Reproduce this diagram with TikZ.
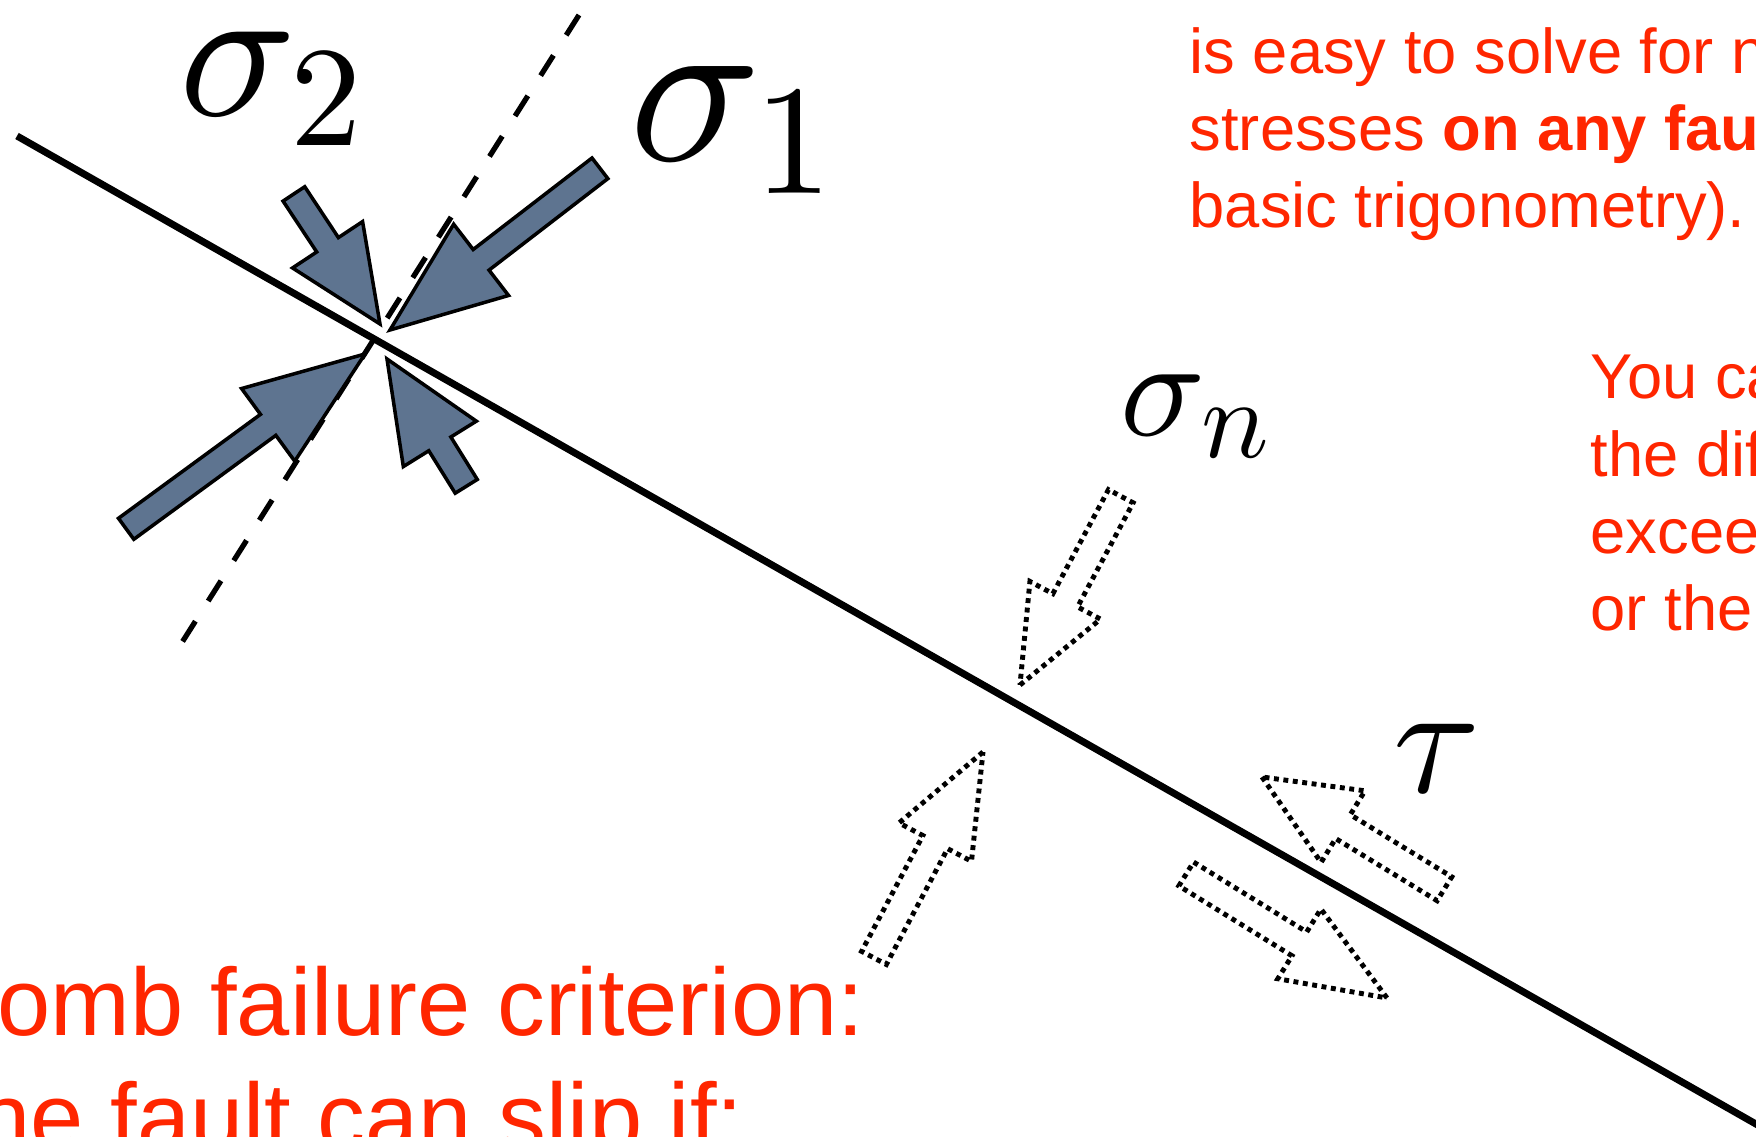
\RequirePackage{fix-cm}
\documentclass[tikz,border=0pt]{standalone}
\usepackage{fontspec}
\newfontfamily\arialfont{Liberation Sans}
\DeclareFontShape{OML}{cmm}{m}{it}{<->cmmi10}{}
\DeclareFontShape{OT1}{cmr}{m}{n}{<->cmr10}{}
\DeclareMathSizes{55}{55}{40.5}{30}
\DeclareMathSizes{62}{62}{44.5}{32}
\DeclareMathSizes{40}{40}{32}{24}
\DeclareMathSizes{45}{45}{32}{24}
\definecolor{slate}{RGB}{94,116,144}
\definecolor{alertred}{RGB}{255,38,0}

\begin{document}
\begin{tikzpicture}[
x=0.01cm, y=-0.01cm,
fault/.style={line width=2pt},
trace/.style={line width=1.5pt, dash pattern=on 6.8pt off 6.8pt},
stressarrow/.style={
   draw,
   fill=slate,
   line width=1pt,
   line join=miter,
   },
resolvedarrow/.style={
   draw,
   line width=1.4pt,
   dash pattern=on 1.4pt off 1.3pt,
   },
symbol/.style={anchor=base west, inner sep=0pt},
note/.style={
   anchor=base west,
   inner sep=0pt,
   align=left,
   text=alertred,
   font=\arialfont\fontsize{18}{22}\selectfont,
   },
]
\useasboundingbox (0,0) rectangle (1756,1137);

\coordinate (faulttop) at (17,136);
\coordinate (faultend) at (1770,1132);
\coordinate (tracetop) at (579,15);
\coordinate (tracebottom) at (181,644);

\draw[fault] (faulttop) -- (faultend);
\draw[trace] (tracetop) -- (tracebottom);

% sigma 1 pair
\begin{scope}[shift={(390,330)}, rotate=37.6]
\draw[stressarrow] (0,0) -- (115,45) -- (115,13) -- (265,13) -- (265,-13) -- (115,-13) -- (115,-45) -- cycle;
\end{scope}
\begin{scope}[shift={(365,354)}, rotate=216.2]
\draw[stressarrow] (0,0) -- (120,45) -- (120,13) -- (296,13) -- (296,-13) -- (120,-13) -- (120,-45) -- cycle;
\end{scope}
% sigma 2 pair
\begin{scope}[shift={(380,324)}, rotate=123.5]
\draw[stressarrow] (0,0) -- (95,42) -- (95,13) -- (156,13) -- (156,-13) -- (95,-13) -- (95,-42) -- cycle;
\end{scope}
\begin{scope}[shift={(387,359)}, rotate=-58.1]
\draw[stressarrow] (0,0) -- (100,43) -- (100,13) -- (150,13) -- (150,-13) -- (100,-13) -- (100,-43) -- cycle;
\end{scope}

% normal stress on the fault
\begin{scope}[shift={(1020,685)}, rotate=61.9]
\draw[resolvedarrow] (0,0) -- (96,40) -- (96,14) -- (214,14) -- (214,-14) -- (96,-14) -- (96,-40) -- cycle;
\end{scope}
\begin{scope}[shift={(983,752)}, rotate=242.1]
\draw[resolvedarrow] (0,0) -- (102,41) -- (102,14) -- (233,14) -- (233,-14) -- (102,-14) -- (102,-41) -- cycle;
\end{scope}
% shear stress on the fault
\begin{scope}[shift={(1262,777)}, rotate=-31.5]
\draw[resolvedarrow] (0,0) -- (95,42) -- (95,14) -- (214,14) -- (214,-14) -- (95,-14) -- (95,-42) -- cycle;
\end{scope}
\begin{scope}[shift={(1387,998)}, rotate=148.3]
\draw[resolvedarrow] (0,0) -- (103,41) -- (103,14) -- (236,14) -- (236,-14) -- (103,-14) -- (103,-41) -- cycle;
\end{scope}

\node[symbol, font=\fontsize{55}{66}\selectfont] (sigmatwo) at (179,116) {$\sigma_2$};
\node[symbol, font=\fontsize{62}{74}\selectfont] (sigmaone) at (629,161) {$\sigma_1$};
\node[symbol, font=\fontsize{40}{48}\selectfont] (sigman) at (1120,436) {$\sigma_n$};
\node[symbol, font=\fontsize{45}{54}\selectfont] (tau) at (1393,793) {$\tau$};

% multi-line notes sit on the baseline of their last line
\node[note] (solvenote) at (1189,228) {is easy to solve for n\\stresses \textbf{on any fau}\\basic trigonometry).};
\node[note] (slipnote) at (1590,631) {You ca\\the dif\\excee\\or the};
\node[note, font=\arialfont\fontsize{27.2}{32.6}\selectfont] (criterion) at (-3,1036) {omb failure criterion:};
\node[note, font=\arialfont\fontsize{27.2}{32.6}\selectfont] (sliprule) at (-23,1151) {he fault can slip if:};
\end{tikzpicture}
\end{document}
